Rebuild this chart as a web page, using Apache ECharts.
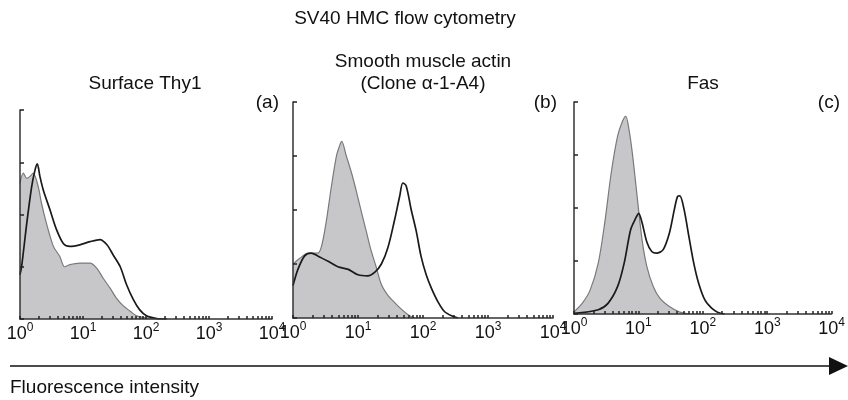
<!DOCTYPE html>
<html>
<head>
<meta charset="utf-8">
<script src="https://cdn.jsdelivr.net/npm/echarts@6/dist/echarts.min.js"></script>
<style>
  html, body { margin: 0; padding: 0; background: #fff; }
  #main { width: 848px; height: 400px; }
</style>
</head>
<body>
<div id="main"></div>
<script>
// fluorescence intensity (log scale) / relative cell count
const thy1Control = [[1.0, 2.6], [1.13, 2.79], [1.28, 2.69], [1.44, 2.73], [1.62, 2.79], [1.95, 2.53], [2.19, 2.22], [2.63, 1.83], [3.39, 1.39], [4.27, 1.2], [5.1, 1.0], [6.2, 1.04], [8.9, 1.07], [12.9, 1.07], [16.6, 0.97], [20.9, 0.78], [26.9, 0.59], [33.9, 0.4], [43.7, 0.25], [56, 0.15], [71, 0.06], [102, 0.02], [166, 0]]
const thy1Stain = [[1.0, 0.85], [1.06, 1.0], [1.28, 1.83], [1.53, 2.53], [1.73, 2.85], [1.88, 2.97], [2.07, 2.73], [2.34, 2.47], [2.99, 2.09], [3.8, 1.71], [4.9, 1.44], [6.2, 1.39], [8.9, 1.42], [12.9, 1.48], [18.6, 1.52], [24, 1.42], [30, 1.23], [39, 1.0], [49, 0.66], [63, 0.37], [79, 0.18], [102, 0.06], [148, 0.01], [214, 0]]

const smaControl = [[1.0, 1.0], [1.26, 1.1], [1.7, 1.2], [2.4, 1.2], [2.75, 1.33], [3.24, 1.78], [3.89, 2.43], [4.68, 3.01], [5.25, 3.2], [5.62, 3.27], [6.61, 3.0], [7.94, 2.69], [9.33, 2.37], [11.2, 1.98], [13.5, 1.59], [15.8, 1.26], [19.1, 0.94], [22.9, 0.62], [28.8, 0.42], [36.3, 0.29], [46.8, 0.16], [58.9, 0.06], [74, 0]]
const smaStain = [[1.0, 0.6], [1.19, 0.9], [1.51, 1.15], [1.91, 1.2], [2.4, 1.15], [3.47, 1.05], [4.9, 0.95], [7.1, 0.9], [10, 0.8], [14.1, 0.78], [18.2, 0.85], [22.9, 1.0], [28.8, 1.3], [36.3, 1.8], [43.7, 2.25], [49, 2.5], [55, 2.45], [66, 2.0], [79, 1.6], [93, 1.15], [112, 0.8], [135, 0.55], [170, 0.3], [214, 0.12], [275, 0.04], [347, 0]]

const fasControl = [[1.0, 0.04], [1.34, 0.2], [1.78, 0.45], [2.38, 0.96], [3.0, 1.72], [3.78, 2.66], [4.76, 3.36], [5.68, 3.64], [6.37, 3.73], [7.14, 3.48], [8.04, 3.04], [9.55, 2.22], [11.4, 1.4], [13.5, 0.9], [17, 0.52], [21.5, 0.3], [30.3, 0.14], [43, 0.04], [60.8, 0]]
const fasStain = [[1.0, 0.01], [2.38, 0.08], [3.37, 0.2], [4.76, 0.52], [6.01, 0.96], [7.57, 1.59], [9.02, 1.8], [10.1, 1.9], [11.4, 1.72], [13.5, 1.36], [16.1, 1.18], [19.1, 1.15], [24.1, 1.21], [30.3, 1.53], [36.1, 1.97], [40.6, 2.22], [44, 2.23], [51.2, 1.97], [60.8, 1.46], [72.3, 0.96], [86.1, 0.58], [108, 0.26], [137, 0.11], [172, 0.03], [217, 0]]

const majorTicks = [1, 10, 100, 1000, 10000]
const minorTicks = []
for (let d = 1; d < 10000; d *= 10) {
  for (let k = 1; k < 10; k++) minorTicks.push(d * k)
}
minorTicks.push(10000)

const panelTitles = ["Surface Thy1", "Smooth muscle actin\n(Clone \u03b1-1-A4)", "Fas"]
const panelLetters = ["(a)", "(b)", "(c)"]

const grids = [
  { left: 20, top: 110, width: 252, height: 209 },
  { left: 293, top: 102, width: 260, height: 216 },
  { left: 574, top: 102, width: 264, height: 212 }
]

const font = "'Liberation Sans', Arial, sans-serif"
const axisColor = "#333"

const chart = echarts.init(document.getElementById("main"), null, { renderer: "canvas" })

const xAxes = grids.map((g, i) => ({
  type: "log",
  logBase: 10,
  gridIndex: i,
  min: 1,
  max: 10000,
  z: 10,
  axisLine: { show: true, lineStyle: { color: axisColor, width: 1.5 } },
  axisTick: {
    show: true,
    inside: true,
    length: 3,
    customValues: minorTicks,
    lineStyle: { color: "#222", width: 1.5 }
  },
  axisLabel: {
    show: true,
    customValues: majorTicks,
    margin: 3,
    formatter: (v) => "{b|10}{s|" + Math.round(Math.log10(v)) + "}",
    rich: {
      b: { fontSize: 18, fontFamily: font, color: "#111" },
      s: { fontSize: 12, fontFamily: font, color: "#111", padding: [0, 0, 12, 0] }
    }
  },
  splitLine: { show: false }
}))

const yAxes = grids.map((g, i) => ({
  type: "value",
  gridIndex: i,
  min: 0,
  max: 4,
  interval: 1,
  z: 10,
  axisLine: { show: true, lineStyle: { color: axisColor, width: 1.5 } },
  axisTick: { show: true, inside: true, length: 4, lineStyle: { color: "#222", width: 1.5 } },
  axisLabel: { show: false },
  splitLine: { show: false }
}))

function controlSeries(data, i) {
  return {
    type: "line",
    xAxisIndex: i,
    yAxisIndex: i,
    data: data,
    showSymbol: false,
    smooth: 0.3,
    z: 2,
    lineStyle: { color: "#7a7a7d", width: 1.2 },
    areaStyle: { color: "#c7c7ca", opacity: 1 }
  }
}
function stainSeries(data, i) {
  return {
    type: "line",
    xAxisIndex: i,
    yAxisIndex: i,
    data: data,
    showSymbol: false,
    smooth: 0.3,
    z: 3,
    lineStyle: { color: "#1a1a1a", width: 1.7 }
  }
}

const titles = [
  { text: "SV40 HMC flow cytometry", left: 405, top: 8, textAlign: "center" },
  { text: panelTitles[0], left: 145, top: 73, textAlign: "center" },
  { text: panelTitles[1], left: 423, top: 51, textAlign: "center" },
  { text: panelTitles[2], left: 703, top: 73, textAlign: "center" },
  { text: panelLetters[0], left: 279, top: 92, textAlign: "right" },
  { text: panelLetters[1], left: 557, top: 92, textAlign: "right" },
  { text: panelLetters[2], left: 840, top: 92, textAlign: "right" },
  { text: "Fluorescence intensity", left: 10, top: 377 }
].map((t) => Object.assign(t, {
  padding: 0,
  textStyle: { fontFamily: font, fontSize: 19, fontWeight: "normal", color: "#111", lineHeight: 22 }
}))

chart.setOption({
  backgroundColor: "#fff",
  animation: false,
  title: titles,
  grid: grids,
  xAxis: xAxes,
  yAxis: yAxes,
  series: [
    controlSeries(thy1Control, 0), stainSeries(thy1Stain, 0),
    controlSeries(smaControl, 1), stainSeries(smaStain, 1),
    controlSeries(fasControl, 2), stainSeries(fasStain, 2)
  ],
  graphic: [
    { type: "line", shape: { x1: 10, y1: 366, x2: 832, y2: 366 }, style: { stroke: "#111", lineWidth: 1.5 } },
    { type: "polygon", shape: { points: [[829, 357], [848, 366], [829, 375]] }, style: { fill: "#111" } }
  ]
})
</script>
</body>
</html>
